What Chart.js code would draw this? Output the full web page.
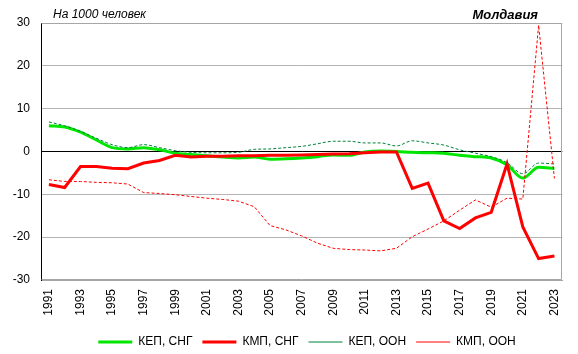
<!DOCTYPE html>
<html><head><meta charset="utf-8">
<script src="https://cdn.jsdelivr.net/npm/chart.js@4"></script>
<style>html,body{margin:0;padding:0;background:#fff}#wrap{position:relative;width:578px;height:354px}</style>
</head><body><div id="wrap"><canvas id="c" width="578" height="354"></canvas></div>
<script>
const years = ['1991','1992','1993','1994','1995','1996','1997','1998','1999','2000','2001','2002','2003','2004','2005','2006','2007','2008','2009','2010','2011','2012','2013','2014','2015','2016','2017','2018','2019','2020','2021','2022','2023'];
const seriesNames = ['КЕП, СНГ','КМП, СНГ','КЕП, ООН','КМП, ООН'];
const kepCis = [6.0,5.7,4.5,2.7,0.9,0.6,0.9,0.4,-0.4,-0.7,-1.0,-1.3,-1.5,-1.3,-1.8,-1.7,-1.5,-1.2,-0.8,-0.9,-0.1,0.1,0.0,-0.2,-0.3,-0.4,-0.9,-1.2,-1.5,-3.1,-6.2,-3.7,-4.0];
const kmpCis = [-7.7,-8.4,-3.5,-3.5,-3.9,-4.0,-2.7,-2.1,-0.9,-1.3,-1.1,-1.1,-1.0,-1.0,-0.9,-0.9,-0.8,-0.7,-0.6,-0.5,-0.3,-0.1,-0.1,-8.6,-7.4,-16.2,-18.0,-15.5,-14.2,-2.9,-17.6,-25.0,-24.4];
const kepUn = [6.9,6.0,4.7,3.1,1.6,0.9,1.6,0.9,0.2,-0.2,-0.3,-0.3,-0.2,0.5,0.6,0.9,1.2,1.8,2.4,2.4,2.0,2.0,1.3,2.5,2.0,1.5,0.4,-0.4,-1.2,-2.6,-5.2,-2.7,-2.9];
const kmpUn = [-6.6,-7.0,-7.0,-7.2,-7.3,-7.6,-9.6,-9.8,-10.1,-10.5,-10.9,-11.2,-11.6,-12.9,-17.3,-18.3,-19.7,-21.4,-22.6,-22.9,-23.0,-23.2,-22.6,-19.9,-18.1,-16.2,-13.7,-11.3,-13.0,-10.9,-11.1,29.5,-6.3];
const yTicks = [-30,-20,-10,0,10,20,30];
const titleText = 'Молдавия';
const unitText = 'На 1000 человек';

const FONT = "'Liberation Sans', Arial, sans-serif";

const frame = {
  id: 'frame',
  afterLayout(chart) {
    const lg = chart.legend;
    if (lg) { lg.left += 24; lg.right += 24; lg.top += 4; lg.bottom += 4; }
  },
  beforeDatasetsDraw(chart) {
    const {ctx, chartArea: a} = chart;
    ctx.save();
    ctx.strokeStyle = '#a6a6a6';
    ctx.lineWidth = 1;
    ctx.beginPath();
    const l = Math.round(a.left) + 0.5, r = Math.round(a.right) - 0.5, t = Math.round(a.top) + 0.5, b = Math.round(a.bottom) - 0.5;
    ctx.moveTo(l, t); ctx.lineTo(r, t); ctx.lineTo(r, b); ctx.lineTo(l, b);
    ctx.stroke();
    ctx.restore();
  },
  afterDraw(chart) {
    const {ctx} = chart;
    ctx.save();
    ctx.fillStyle = '#000';
    ctx.textBaseline = 'middle';
    ctx.font = "italic 12px " + FONT;
    ctx.textAlign = 'left';
    ctx.fillText(unitText, 53, 15);
    ctx.font = "italic bold 13px " + FONT;
    ctx.textAlign = 'right';
    ctx.fillText(titleText, 538, 15);
    ctx.restore();
  }
};

function ds(label, data, color, width, dash, order, smooth) {
  return {
    label, data, borderColor: color, backgroundColor: color, borderWidth: width,
    borderDash: dash, pointRadius: 0, pointHoverRadius: 0, fill: false, order,
    cubicInterpolationMode: smooth ? 'monotone' : 'default', tension: 0
  };
}

new Chart(document.getElementById('c'), {
  type: 'line',
  data: {
    labels: years,
    datasets: [
      ds(seriesNames[0], kepCis, '#00e600', 3, [], 4, true),
      ds(seriesNames[1], kmpCis, '#ff0000', 3, [], 3, false),
      ds(seriesNames[2], kepUn, '#00803a', 1, [3, 2], 2, true),
      ds(seriesNames[3], kmpUn, '#ff0000', 1, [3, 2], 1, false)
    ]
  },
  options: {
    responsive: false,
    animation: false,
    devicePixelRatio: 1,
    layout: {padding: {top: 23, right: 12, left: 0, bottom: 0}},
    plugins: {
      legend: {
        position: 'bottom',
        labels: {
          usePointStyle: true, pointStyle: 'line', pointStyleWidth: 34,
          font: {family: FONT, size: 12}, color: '#000', padding: 10,
          sort: (a, b) => a.datasetIndex - b.datasetIndex
        }
      },
      tooltip: {enabled: false}
    },
    scales: {
      x: {
        type: 'category', offset: true,
        grid: {display: false, drawTicks: false},
        border: {color: '#a6a6a6'},
        ticks: {
          autoSkip: false, maxRotation: 90, minRotation: 90, padding: 9,
          font: {family: FONT, size: 12}, color: '#000',
          callback: (v, i) => (i % 2 === 0 ? years[i] : '')
        },
        afterFit: s => { s.height = 42; }
      },
      y: {
        min: -30, max: 30,
        afterBuildTicks: s => { s.ticks = yTicks.map(v => ({value: v})); },
        grid: {color: c => (c.tick && c.tick.value === 0 ? '#000' : '#b4b4b4'), drawTicks: false},
        border: {color: '#000', width: 1},
        ticks: {padding: 11, font: {family: FONT, size: 12}, color: '#000'},
        afterFit: s => { s.width = 41; }
      }
    }
  },
  plugins: [frame]
});
</script></body></html>
